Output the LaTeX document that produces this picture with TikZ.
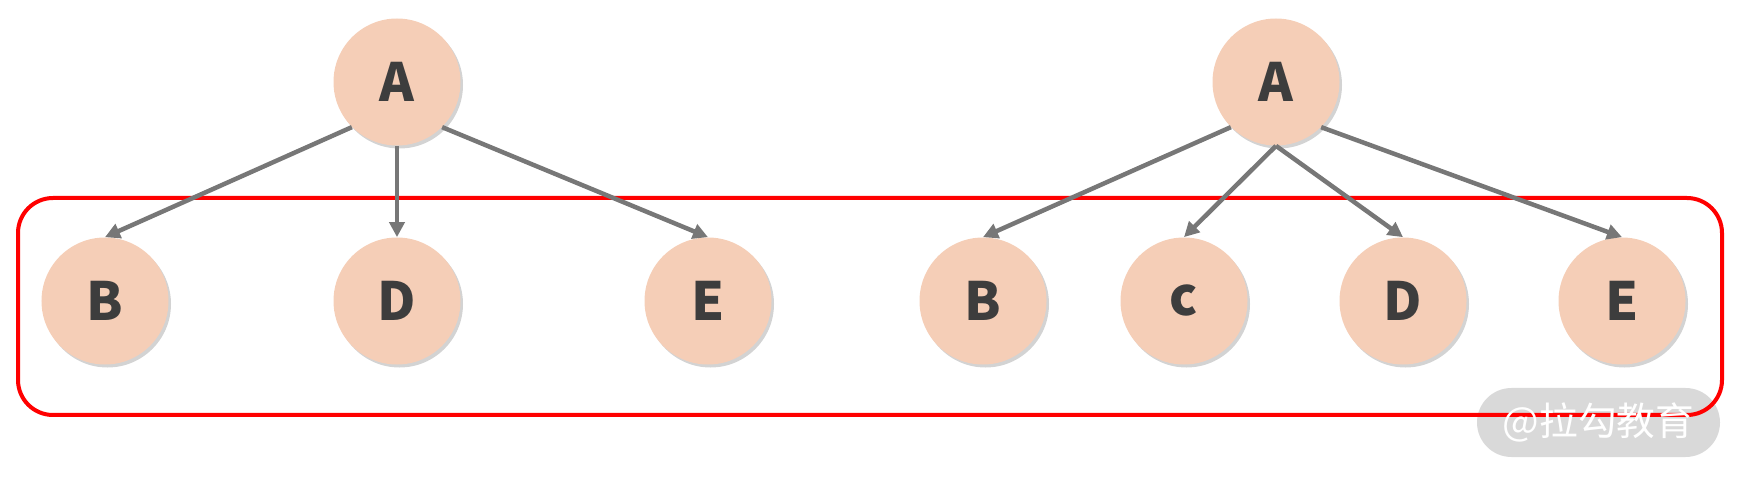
\documentclass[tikz,border=0pt]{standalone}
\usepackage{fontspec}
\setmainfont{Noto Sans CJK SC}
\usetikzlibrary{arrows.meta,shadows}
\definecolor{peach}{HTML}{F5CEB7}
\definecolor{txtgray}{HTML}{3D3D3D}
\definecolor{linegray}{HTML}{777777}
\definecolor{wmgray}{HTML}{D9D9D9}

\begin{document}
\begin{tikzpicture}[x=0.2mm, y=-0.2mm,
    node/.style={circle, fill=peach, minimum size=25.4mm, inner sep=0pt, text=txtgray, font=\fontsize{30}{30}\selectfont\bfseries,
      drop shadow={opacity=0.35, shadow xshift=0.5mm, shadow yshift=-0.6mm}},
    arrow/.style={-{Triangle[length=3mm, width=3mm]}, line width=0.9mm, draw=linegray},
    frame/.style={draw=red, line width=0.8mm, rounded corners=7mm}]
    \useasboundingbox (0,0) rectangle (1745,480);
    % watermark
    \node[fill=wmgray, rounded corners=6.9mm, minimum width=48.6mm, minimum height=13.8mm] (wm) at (1598.5,422.5) {};
    \draw[frame] (18,198) rectangle (1722,415);
    \node[text=white, font=\fontsize{22}{22}\selectfont] at (wm) {@拉勾教育};

    % left tree
    \node[node] (aL) at (397,82) {A};
    \node[node] (bL) at (105,301) {B};
    \node[node] (dL) at (397,301) {D};
    \node[node] (eL) at (708,301) {E};

    % right tree
    \node[node] (aR) at (1276,82) {A};
    \node[node] (bR) at (983,301) {B};
    \node[node] (cR) at (1184,301) {c};
    \node[node] (dR) at (1403,301) {D};
    \node[node] (eR) at (1622,301) {E};

    \draw[arrow] (aL.south west) -- (bL.north);
    \draw[arrow] (aL.south) -- (dL.north);
    \draw[arrow] (aL.south east) -- (eL.north);
    \draw[arrow] (aR.south west) -- (bR.north);
    \draw[arrow] (aR.south) -- (cR.north);
    \draw[arrow] (aR.south) -- (dR.north);
    \draw[arrow] (aR.south east) -- (eR.north);
\end{tikzpicture}
\end{document}
